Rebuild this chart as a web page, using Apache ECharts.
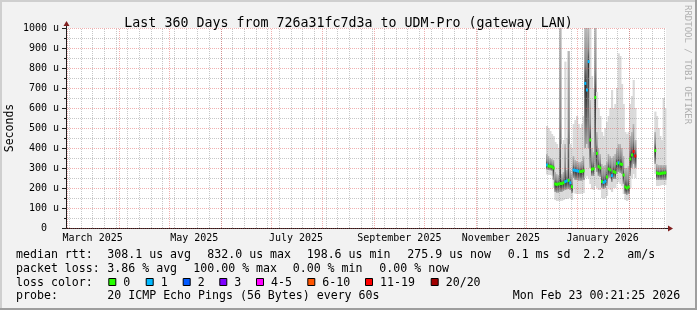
<!DOCTYPE html>
<html><head><meta charset="utf-8">
<script src="https://cdn.jsdelivr.net/npm/echarts@6/dist/echarts.min.js"></script>
<style>html,body{margin:0;padding:0;background:#f2f2f2}#c{width:697px;height:310px}</style>
</head><body><div id="c"></div>
<script>
// ---- data ----
const dates = [
 '2025-12-13','2025-12-14','2025-12-15','2025-12-16','2025-12-17','2025-12-18','2025-12-19','2025-12-20',
 '2025-12-21','2025-12-22','2025-12-23','2025-12-24','2025-12-25','2025-12-26','2025-12-27','2025-12-28',
 '2025-12-29','2025-12-30','2025-12-31','2026-01-01','2026-01-02','2026-01-03','2026-01-04','2026-01-05',
 '2026-01-06','2026-01-07','2026-01-08','2026-01-09','2026-01-10','2026-01-11','2026-01-12','2026-01-13',
 '2026-01-14','2026-01-15','2026-01-16','2026-01-17','2026-01-18','2026-01-19','2026-01-20','2026-01-21',
 '2026-01-22','2026-01-23','2026-01-24','2026-01-25','2026-01-26','2026-01-27','2026-01-28','2026-01-29',
 '2026-01-30','2026-01-31','2026-02-01','2026-02-02','2026-02-03','2026-02-04',
 '2026-02-16','2026-02-17','2026-02-18','2026-02-19','2026-02-20','2026-02-21','2026-02-22'
];
const medianUs = [
 315,310,308,306,300,220,218,220, 222,222,226,232,236,238,226,206,
 290,288,286,284,282,283,286,723, 690,832,440,294,296,653,373,307,
 300,232,228,234,255,295,290,262, 282,278,322,326,320,318,265,205,
 200,205,345,365,383,360,
 387,275,272,272,274,275,276
];
const lossIdx = [
 1,0,0,0,0,0,0,0, 0,0,0,1,1,0,1,0,
 1,1,1,1,0,0,0,1, 1,1,0,0,0,0,0,0,
 0,0,1,1,0,0,0,1, 0,0,0,1,0,0,0,0,
 0,0,0,0,6,6,
 0,0,0,0,0,0,0
];
const smokeMin = [
 268,265,265,262,200,140,135,135, 135,136,140,145,145,150,150,140,
 200,172,170,170,170,172,175,250, 260,250,220,195,190,210,200,190,
 190,150,145,150,160,200,190,180, 200,200,220,230,220,210,170,140,
 135,140,200,250,270,250,
 270,210,210,212,215,215,215
];
const smokeLo = [
 292,290,288,286,240,180,176,176, 180,180,185,190,192,195,190,175,
 250,240,240,236,236,236,240,400, 420,400,300,260,260,300,280,260,
 255,200,195,200,210,250,250,230, 245,245,270,280,275,270,220,170,
 165,170,260,300,320,300,
 320,240,240,240,240,240,240
];
const smokeHi = [
 370,360,350,345,340,280,270,265, 1000,270,280,420,290,885,290,270,
 360,340,335,330,330,335,360,1000, 1000,1000,640,400,380,1000,480,400,
 370,320,310,315,330,370,360,350, 360,370,400,420,420,400,360,300,
 300,310,460,480,520,440,
 480,320,315,315,315,315,315
];
const smokeMax = [
 510,500,485,470,460,430,420,400, 1000,420,440,832,450,885,420,400,
 520,540,560,520,500,520,560,1000, 1000,1000,1000,760,700,1000,680,600,
 560,480,460,500,530,560,600,690, 600,620,700,873,860,720,620,480,
 470,480,620,660,740,600,
 582,560,500,460,440,650,600
];
const lossLabels = ['0','1','2','3','4-5','6-10','11-19','20/20'];
const lossColors = ['#26ff00','#00b8ff','#0059ff','#7e00ff','#ff00ff','#ff5500','#ff0000','#a10000'];
const monthLines = ['2025-03-01','2025-04-01','2025-05-01','2025-06-01','2025-07-01','2025-08-01','2025-09-01',
 '2025-10-01','2025-11-01','2025-12-01','2026-01-01','2026-02-01'];
const xLabelDates = ['2025-03-16','2025-05-16','2025-07-16','2025-09-16','2025-11-16','2026-01-16'];
const xLabelTexts = ['March 2025','May 2025','July 2025','September 2025','November 2025','January 2026'];
const firstWeekLine = '2025-03-02';
const yMin = 0, yMax = 1000, yStep = 100;

// ---- build ----
const DAY = 86400000;
const tStart = Date.UTC(2025,1,28,0,21,25);
const tEnd = Date.UTC(2026,1,23,0,21,25);
const weekLines = [];
for (let t = Date.parse(firstWeekLine); t < tEnd; t += 7*DAY) weekLines.push(t);
const smokeData = dates.map((d,i)=>[Date.parse(d), smokeMin[i], smokeLo[i], medianUs[i], smokeHi[i], smokeMax[i], lossIdx[i]]);
const MONO = '"DejaVu Sans Mono", monospace';

function clampY(cs, y){ return Math.max(cs.y, Math.min(cs.y+cs.height, y)); }
function renderSmoke(params, api){
  const cs = params.coordSys;
  const t = api.value(0);
  const xa = api.coord([t, 0])[0], xb = api.coord([t+DAY, 0])[0];
  const w = xb - xa + 0.5;
  const Y = v => clampY(cs, api.coord([t, v])[1]);
  const yMn = Y(api.value(1)), yLo = Y(api.value(2)), yMd = Y(api.value(3)), yHi = Y(api.value(4)), yMx = Y(api.value(5));
  return {type:'group', children:[
    {type:'rect', shape:{x:xa, y:yMx, width:w, height:yMn-yMx}, style:{fill:'#dadada'}},
    {type:'rect', shape:{x:xa, y:yHi, width:w, height:yMd-yHi}, style:{fill:new echarts.graphic.LinearGradient(0,0,0,1,[
      {offset:0,color:'#b8b8b8'},{offset:0.6,color:'#8a8a8a'},{offset:1,color:'#3c3c3c'}])}},
    {type:'rect', shape:{x:xa, y:yMd, width:w, height:yLo-yMd}, style:{fill:new echarts.graphic.LinearGradient(0,0,0,1,[
      {offset:0,color:'#303030'},{offset:0.5,color:'#606060'},{offset:1,color:'#a4a4a4'}])}}
  ]};
}
function renderMedian(params, api){
  const cs = params.coordSys;
  const t = api.value(0);
  const xa = api.coord([t, 0])[0], xb = api.coord([t+DAY, 0])[0];
  const yMd = clampY(cs, api.coord([t, api.value(3)])[1]);
  return {type:'rect', shape:{x:xa, y:yMd-1.5, width:xb-xa+0.3, height:3}, style:{fill:lossColors[api.value(6)]}};
}

// legend / text graphics
const g = [];
g.push({type:'rect', shape:{x:0,y:0,width:697,height:2}, style:{fill:'#cfcfcf'}, silent:true});
g.push({type:'rect', shape:{x:0,y:0,width:2,height:310}, style:{fill:'#cfcfcf'}, silent:true});
g.push({type:'rect', shape:{x:695,y:0,width:2,height:310}, style:{fill:'#9e9e9e'}, silent:true});
g.push({type:'rect', shape:{x:0,y:308,width:697,height:2}, style:{fill:'#9e9e9e'}, silent:true});
g.push({type:'line', shape:{x1:66.5,y1:28,x2:66.5,y2:24}, style:{stroke:'#1f1f1f',lineWidth:1}, silent:true});
g.push({type:'line', shape:{x1:62,y1:228.5,x2:66,y2:228.5}, style:{stroke:'#1f1f1f',lineWidth:1}, silent:true});
g.push({type:'line', shape:{x1:666,y1:228.5,x2:669,y2:228.5}, style:{stroke:'#1f1f1f',lineWidth:1}, silent:true});
g.push({type:'polygon', shape:{points:[[63.5,26],[69.5,26],[66.5,21]]}, style:{fill:'#801f1f'}, silent:true});
g.push({type:'polygon', shape:{points:[[668,225.5],[668,231.5],[673,228.5]]}, style:{fill:'#801f1f'}, silent:true});
function txt(s, x, y, size){ g.push({type:'text', x:x, y:y, silent:true,
  style:{text:s, fill:'#000', font:size+'px '+MONO, verticalAlign:'middle', align:'left'}}); }
g.push({type:'text', x:10.5, y:128, rotation:Math.PI/2, silent:true,
  style:{text:'Seconds', fill:'#000', font:'11.5px '+MONO, align:'center', verticalAlign:'middle'}});
g.push({type:'text', x:687, y:5, rotation:-Math.PI/2, silent:true,
  style:{text:'RRDTOOL / TOBI OETIKER', fill:'#b0b0b0', font:'9px '+MONO, align:'left', verticalAlign:'middle'}});
const F = 11.6;
const L1 = 255, L2 = 268.5, L3 = 282.5, L4 = 296;
txt('median rtt:', 16, L1, F); txt('308.1 us avg', 107.3, L1, F); txt('832.0 us max', 207.3, L1, F);
txt('198.6 us min', 306.7, L1, F); txt('275.9 us now', 407.3, L1, F); txt('0.1 ms sd', 507.7, L1, F);
txt('2.2', 583.3, L1, F); txt('am/s', 627.3, L1, F);
txt('packet loss:', 16, L2, F); txt('3.86 % avg', 107.3, L2, F); txt('100.00 % max', 193.3, L2, F);
txt('0.00 % min', 292.7, L2, F); txt('0.00 % now', 379.3, L2, F);
txt('loss color:', 16, L3, F);
const swX = [108.3,145.7,182.7,219.3,256,307.3,365,430.7];
lossLabels.forEach((lab,i)=>{
  g.push({type:'rect', shape:{x:swX[i]+0.5, y:278.5, width:7, height:7}, style:{fill:lossColors[i], stroke:'#000', lineWidth:1}, silent:true});
  txt(lab, swX[i]+15, L3, F);
});
txt('probe:', 16, L4, F); txt('20 ICMP Echo Pings (56 Bytes) every 60s', 107.3, L4, F);
txt('Mon Feb 23 00:21:25 2026', 512.7, L4, F);

const chart = echarts.init(document.getElementById('c'), null, {renderer:'canvas'});
chart.setOption({
  animation:false,
  backgroundColor:'#f2f2f2',
  title:{text:'Last 360 Days from 726a31fc7d3a to UDM-Pro (gateway LAN)', left:'center', top:12,
    textStyle:{fontFamily:MONO, fontSize:13.3, fontWeight:'normal', color:'#000'}},
  grid:{left:66, right:31, top:28, bottom:82, show:true, backgroundColor:'#ffffff', borderWidth:0},
  xAxis:{type:'value', min:tStart, max:tEnd,
    axisLine:{show:true, lineStyle:{color:'#1f1f1f', width:1}},
    axisTick:{show:false},
    splitLine:{show:false},
    axisLabel:{customValues:xLabelDates.map(d=>Date.parse(d)), margin:5, fontFamily:MONO, fontSize:10, color:'#000',
      formatter:(v)=>{const i=xLabelDates.findIndex(d=>Math.abs(Date.parse(d)-v)<DAY/2); return i>=0?xLabelTexts[i]:'';}}},
  yAxis:{type:'value', min:yMin, max:yMax, interval:yStep, z:5,
    axisLine:{show:true, lineStyle:{color:'#1f1f1f', width:1}},
    axisTick:{show:true, length:4, lineStyle:{color:'#1f1f1f'}},
    minorTick:{show:true, splitNumber:2, length:2, lineStyle:{color:'#1f1f1f'}},
    axisLabel:{margin:7, fontFamily:MONO, fontSize:10, color:'#000',
      formatter:(v)=> v===0 ? '0\u00a0\u00a0' : v+' u'},
    splitLine:{show:true, lineStyle:{color:'rgba(222,79,79,0.45)', type:[1,1], width:1}},
    minorSplitLine:{show:true, lineStyle:{color:'rgba(143,143,143,0.5)', type:[1,1], width:1}}},
  graphic:g,
  series:[
    {type:'custom', name:'smoke', z:2, silent:true, renderItem:renderSmoke, data:smokeData,
      encode:{x:0, y:[1,5]}},
    {type:'line', z:4, silent:true, data:[], markLine:{silent:true, symbol:['none','none'], label:{show:false},
      lineStyle:{color:'rgba(143,143,143,0.5)', type:[1,1], width:1}, data:weekLines.map(t=>({xAxis:t}))}},
    {type:'line', z:4, silent:true, data:[], markLine:{silent:true, symbol:['none','none'], label:{show:false},
      lineStyle:{color:'rgba(222,79,79,0.45)', type:[1,1], width:1}, data:monthLines.map(d=>({xAxis:Date.parse(d)}))}},
    {type:'custom', name:'median', z:6, silent:true, renderItem:renderMedian, data:smokeData,
      encode:{x:0, y:3}}
  ]
});
</script></body></html>
